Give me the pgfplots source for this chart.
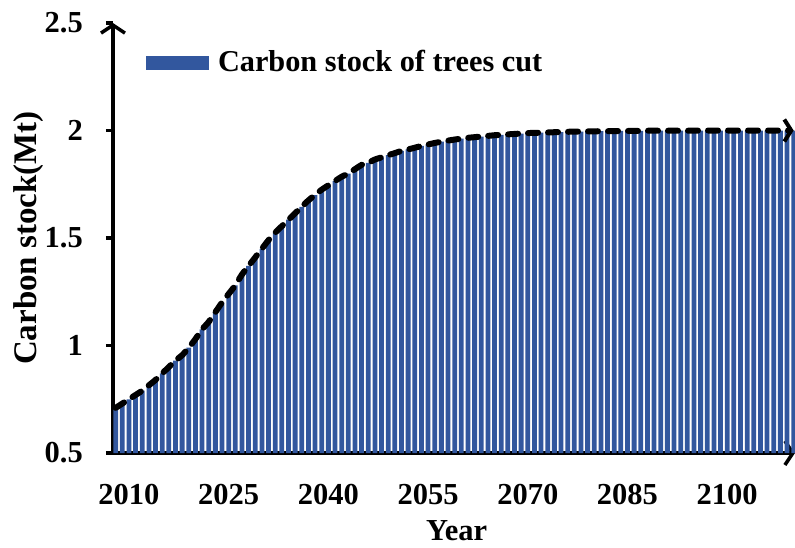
\documentclass[border=0pt]{standalone}
\usepackage{pgfplots}
\pgfplotsset{compat=1.18}
\usepackage{pgfplotstable}
\usepackage{fontspec}
\setmainfont{Liberation Serif}
\usetikzlibrary{arrows.meta}
\definecolor{barblue}{RGB}{50,87,158}
\newcommand\fs[1]{\fontsize{#1}{#1}\selectfont\bfseries}
\pgfplotstableread{
year val
2008 0.71
2009 0.73
2010 0.75
2011 0.77
2012 0.79
2013 0.815
2014 0.84
2015 0.87
2016 0.90
2017 0.93
2018 0.955
2019 0.99
2020 1.03
2021 1.075
2022 1.11
2023 1.155
2024 1.20
2025 1.24
2026 1.28
2027 1.33
2028 1.37
2029 1.41
2030 1.45
2031 1.49
2032 1.525
2033 1.555
2034 1.585
2035 1.615
2036 1.645
2037 1.675
2038 1.70
2039 1.725
2040 1.745
2041 1.765
2042 1.785
2043 1.80
2044 1.82
2045 1.84
2046 1.85
2047 1.865
2048 1.875
2049 1.885
2050 1.895
2051 1.905
2052 1.912
2053 1.92
2054 1.928
2055 1.935
2056 1.942
2057 1.948
2058 1.953
2059 1.958
2060 1.962
2061 1.966
2062 1.969
2063 1.972
2064 1.975
2065 1.978
2066 1.980
2067 1.982
2068 1.984
2069 1.986
2070 1.988
2071 1.989
2072 1.990
2073 1.991
2074 1.992
2075 1.993
2076 1.994
2077 1.995
2078 1.995
2079 1.996
2080 1.996
2081 1.997
2082 1.997
2083 1.997
2084 1.998
2085 1.998
2086 1.998
2087 1.998
2088 1.999
2089 1.999
2090 1.999
2091 1.999
2092 1.999
2093 1.999
2094 1.999
2095 1.999
2096 2.0
2097 2.0
2098 2.0
2099 2.0
2100 2.0
2101 2.0
2102 2.0
2103 2.0
2104 2.0
2105 2.0
2106 2.0
2107 2.0
2108 2.0
2109 2.0
2110 2.0
}\datatable
\begin{document}
\begin{tikzpicture}
\useasboundingbox (-113pt,-94pt) rectangle (682pt,453pt);
\begin{axis}[
  at={(0pt,0pt)}, anchor=south west,
  scale only axis, width=682pt, height=430pt,
  xmin=2007.6, xmax=2110.2, ymin=0.5, ymax=2.5,
  axis x line=bottom, axis y line=left,
  axis line style={line width=4pt, black},
  x axis line style={-{Straight Barb[length=8pt,width=24pt,line width=3.5pt]}},
  y axis line style={-{Straight Barb[length=8pt,width=24pt,line width=3.5pt]}},
  xtick={2010,2025,2040,2055,2070,2085,2100},
  ytick={0.5,1,1.5,2,2.5},
  xtick style={draw=none},
  ytick style={line width=3.5pt, black},
  tick align=outside,
  major tick length=7pt,
  /pgf/number format/1000 sep={},
  /pgf/number format/assume math mode=true,
  xticklabel style={font=\fs{30.5}, anchor=north, inner sep=0pt, yshift=-24pt},
  yticklabel style={font=\fs{30.5}, anchor=east, inner sep=0pt, xshift=-23pt},
  xlabel={Year},
  xlabel style={at={(axis description cs:0.504,0)}, anchor=north, inner sep=0pt, yshift=-67pt, font=\fs{30.5}},
  ylabel={Carbon stock(Mt)},
  ylabel style={at={(axis description cs:-0.1239,0.5)}, anchor=center, inner sep=0pt, font=\fs{33}},
  legend style={at={(axis description cs:0.0484,0.91)}, anchor=west, draw=none, fill=none,
    inner sep=0pt, outer sep=0pt, nodes={inner sep=0pt, font=\fs{30.3}},
    /tikz/every odd column/.style={column sep=9pt}},
  legend cell align=left,
]
\addplot[ybar, bar width=0.72, bar shift=0pt, fill=barblue, draw=none,
  legend image code/.code={\fill[barblue] (0pt,-8pt) rectangle (63pt,6pt);}]
  table[x=year,y=val]{\datatable};
\addlegendentry{Carbon stock of trees cut}
\addplot[black, line width=6pt, dash pattern=on 10pt off 10pt, line cap=round, smooth,
  -{Straight Barb[length=7pt,width=22pt,line width=4pt]}, forget plot]
  table[x=year,y=val]{\datatable};
\end{axis}
\end{tikzpicture}
\end{document}
